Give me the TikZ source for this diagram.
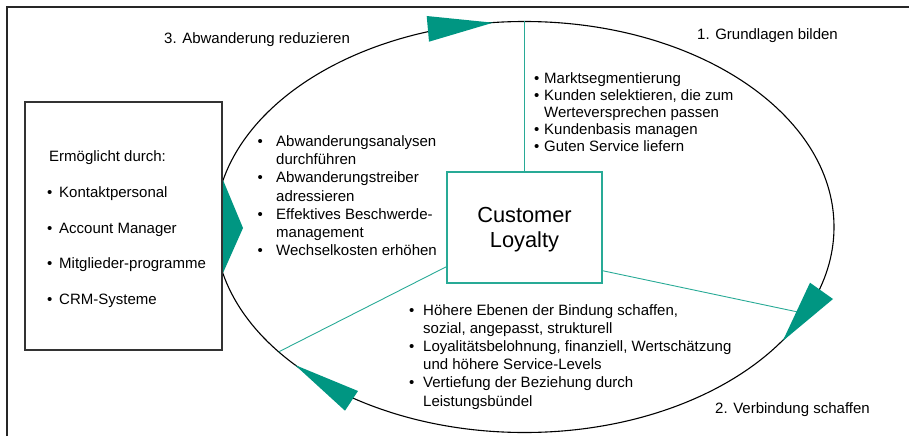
\documentclass[tikz,border=0pt]{standalone}
\usepackage{fontspec}
\setmainfont{Liberation Sans}
\definecolor{tealtip}{RGB}{0,150,130}
\definecolor{tealline}{RGB}{40,170,150}
\newcommand\blt[1]{\makebox[#1][l]{•}}
\begin{document}
\begin{tikzpicture}[x=1pt,y=-1pt,
  lst/.style={anchor=base west, align=left, inner sep=0pt},
  lbl/.style={anchor=base west, inner sep=0pt, font=\fontsize{15}{17}\selectfont},
  tip/.style={fill=tealtip, draw=none},
  spoke/.style={draw=tealline, line width=0.9pt},
]
\useasboundingbox (0,0) rectangle (909,436);
% frame
\draw[line width=1.3pt, black!85] (7,436) -- (7,7) -- (909,7);
% cycle ellipse
\draw[line width=1.1pt] (524.5,227) ellipse [x radius=309.5pt, y radius=205.5pt];
% points on the ellipse
\coordinate (etop) at (524.5,21.5);
\coordinate (eright) at (805,313.5);
\coordinate (eleft) at (279,351.7);
% centre box
\node[draw=tealline, fill=white, line width=1.5pt, minimum width=155pt, minimum height=111pt,
      inner sep=0pt, align=center, text depth=0pt, font=\fontsize{21.8}{25.5}\selectfont] (cl) at (524.5,227.5)
      {Customer\\Loyalty};
% spokes
\draw[spoke] (cl.north) -- (etop);
\draw[spoke] ([yshift=13pt]cl.south east) -- (eright);
\draw[spoke] ([yshift=17pt]cl.south west) -- (eleft);
% enabler box
\node[draw=black!80, fill=white, line width=1.2pt, minimum width=197pt, minimum height=248pt,
      inner sep=0pt] (en) at (123.5,226) {};
\node[lst, font=\fontsize{15}{35.65}\selectfont] (entext) at (47,304.3)
  {\hspace*{2pt}Ermöglicht durch:\\
   \blt{12pt}Kontaktpersonal\\
   \blt{12pt}Account Manager\\
   \blt{12pt}Mitglieder-programme\\
   \blt{12pt}CRM-Systeme};
% arrow tips
\fill[tip] (426.7,16) -- (429,41.7) -- (493,22.7) -- cycle;
\fill[tip] (223,180) -- (223,273) -- (243,228) -- cycle;
\fill[tip] (810,282.7) -- (833,299) -- (782.7,341) -- cycle;
\fill[tip] (358,391) -- (345,410.7) -- (295,365) -- cycle;
% stage labels
\node[lbl] (l3) at (164,44) {3. Abwanderung reduzieren};
\node[lbl] (l1) at (697,40) {1. Grundlagen bilden};
\node[lbl] (l2) at (715,413) {2. Verbindung schaffen};
% lists
\node[lst, font=\fontsize{15}{16.9}\selectfont] (lst1) at (534,151)
  {\blt{10pt}Marktsegmentierung\\
   \blt{10pt}Kunden selektieren, die zum\\
   \hspace*{10pt}Werteversprechen passen\\
   \blt{10pt}Kundenbasis managen\\
   \blt{10pt}Guten Service liefern};
\node[lst, font=\fontsize{15}{18.1}\selectfont] (lst3) at (257.5,255.3)
  {\blt{18.5pt}Abwanderungsanalysen\\
   \hspace*{18.5pt}durchführen\\
   \blt{18.5pt}Abwanderungstreiber\\
   \hspace*{18.5pt}adressieren\\
   \blt{18.5pt}Effektives Beschwerde-\\
   \hspace*{18.5pt}management\\
   \blt{18.5pt}Wechselkosten erhöhen};
\node[lst, font=\fontsize{15}{18.2}\selectfont] (lst2) at (409,406)
  {\blt{14pt}Höhere Ebenen der Bindung schaffen,\\
   \hspace*{14pt}sozial, angepasst, strukturell\\
   \blt{14pt}Loyalitätsbelohnung, finanziell, Wertschätzung\\
   \hspace*{14pt}und höhere Service-Levels\\
   \blt{14pt}Vertiefung der Beziehung durch\\
   \hspace*{14pt}Leistungsbündel};
\end{tikzpicture}
\end{document}
